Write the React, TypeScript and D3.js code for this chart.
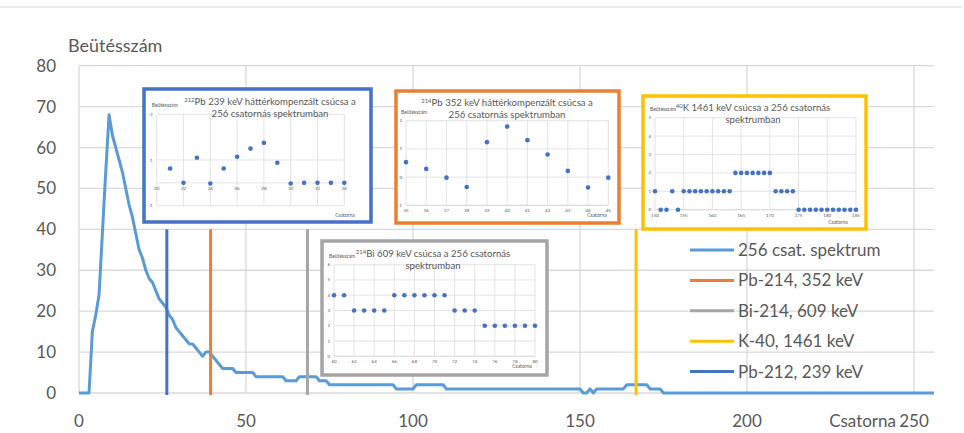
import React from "react";
import * as d3 from "d3";

const FONT = "Lato, 'Open Sans', sans-serif";
const TEXT = "#595959";
const GRID = "#d9d9d9";

// counts per channel, index = channel number 0..256
const SPECTRUM = [
  0, 0, 0, 0, 15, 19, 24, 39, 54, 68,
  63, 60, 57, 54, 50, 46, 43, 39, 35, 33,
  30, 28, 27, 25, 23, 22, 21, 19, 18, 16,
  15, 14, 13, 12, 12, 11, 10, 9, 10, 10,
  9, 8, 7, 6, 6, 6, 6, 5, 5, 5,
  5, 5, 5, 4, 4, 4, 4, 4, 4, 4,
  4, 4, 3, 3, 3, 3, 4, 4, 4, 4,
  4, 4, 3, 3, 3, 2, 2, 2, 2, 2,
  2, 2, 2, 2, 2, 2, 2, 2, 2, 2,
  2, 2, 2, 2, 2, 1, 1, 1, 1, 1,
  1, 2, 2, 2, 2, 2, 2, 2, 2, 2,
  1, 1, 1, 1, 1, 1, 1, 1, 1, 1,
  1, 1, 1, 1, 1, 1, 1, 1, 1, 1,
  1, 1, 1, 1, 1, 1, 1, 1, 1, 1,
  1, 1, 1, 1, 1, 1, 1, 1, 1, 1,
  1, 0, 0, 1, 0, 1, 1, 1, 1, 1,
  1, 1, 1, 1, 2, 2, 2, 2, 2, 2,
  2, 1, 1, 1, 1, 0, 0, 0, 0, 0,
  0, 0, 0, 0, 0, 0, 0, 0, 0, 0,
  0, 0, 0, 0, 0, 0, 0, 0, 0, 0,
  0, 0, 0, 0, 0, 0, 0, 0, 0, 0,
  0, 0, 0, 0, 0, 0, 0, 0, 0, 0,
  0, 0, 0, 0, 0, 0, 0, 0, 0, 0,
  0, 0, 0, 0, 0, 0, 0, 0, 0, 0,
  0, 0, 0, 0, 0, 0, 0, 0, 0, 0,
  0, 0, 0, 0, 0, 0, 0,
];

const X_TICKS = [0, 50, 100, 150, 200, 250];
const Y_TICKS = [0, 10, 20, 30, 40, 50, 60, 70, 80];

const LEGEND_NAMES = [
  "256 csat. spektrum",
  "Pb-214, 352 keV",
  "Bi-214, 609 keV",
  "K-40, 1461 keV",
  "Pb-212, 239 keV",
];
const LEGEND_COLORS = ["#5B9BD5", "#ED7D31", "#A5A5A5", "#FFC000", "#4472C4"];

// vertical marker lines (channel of each peak), drawn from 0 to 40 counts
const MARKER_CHANNELS = [39.4, 68.4, 166.8, 26.3];
const MARKER_COLORS = ["#ED7D31", "#A5A5A5", "#FFC000", "#4472C4"];
const MARKER_SPAN = [0, 40];

// inset: 212Pb 239 keV (background compensated)
const PB212_CH = [21, 22, 23, 24, 25, 26, 27, 28, 29, 30, 31, 32, 33, 34];
const PB212_VAL = [0.63, 0, 1.1, -0.03, 0.63, 1.14, 1.5, 1.75, 0.88, -0.03, 0, 0, 0, 0];
const PB212_XTICKS = [20, 22, 24, 26, 28, 30, 32, 34];
const PB212_YTICKS = [-1, 1, 3];

// inset: 214Pb 352 keV (background compensated)
const PB214_CH = [35, 36, 37, 38, 39, 40, 41, 42, 43, 44, 45];
const PB214_VAL = [0.53, 0.29, -0.02, -0.35, 1.24, 1.79, 1.31, 0.8, 0.22, -0.37, -0.02];
const PB214_XTICKS = [35, 36, 37, 38, 39, 40, 41, 42, 43, 44, 45];
const PB214_YTICKS = [-1, 0, 1, 2];

// inset: 40K 1461 keV
const K40_CH = [
  150, 151, 152, 153, 154, 155, 156, 157, 158, 159, 160, 161, 162, 163, 164, 165, 166, 167,
  168, 169, 170, 171, 172, 173, 174, 175, 176, 177, 178, 179, 180, 181, 182, 183, 184, 185,
];
const K40_VAL = [
  1, 0, 0, 1, 0, 1, 1, 1, 1, 1, 1, 1, 1, 1, 2, 2, 2, 2,
  2, 2, 2, 1, 1, 1, 1, 0, 0, 0, 0, 0, 0, 0, 0, 0, 0, 0,
];
const K40_XTICKS = [150, 155, 160, 165, 170, 175, 180, 185];
const K40_YTICKS = [0, 1, 2, 3, 4, 5];

// inset: 214Bi 609 keV
const BI214_CH = [60, 61, 62, 63, 64, 65, 66, 67, 68, 69, 70, 71, 72, 73, 74, 75, 76, 77, 78, 79, 80];
const BI214_VAL = [4, 4, 3, 3, 3, 3, 4, 4, 4, 4, 4, 4, 3, 3, 3, 2, 2, 2, 2, 2, 2];
const BI214_XTICKS = [60, 62, 64, 66, 68, 70, 72, 74, 76, 78, 80];
const BI214_YTICKS = [0, 1, 2, 3, 4, 5, 6];

type Seg = { t: string; sup?: boolean };

interface InsetProps {
  box: [number, number, number, number];
  plot: [number, number, number, number];
  color: string;
  xDomain: [number, number];
  yDomain: [number, number];
  xTicks: number[];
  yTicks: number[];
  xAxisAt: number;
  title: Seg[][];
  titleX: number;
  titleY: number;
  xTitle: [number, number];
  ch: number[];
  val: number[];
}

function Inset(p: InsetProps) {
  const [bx, by, bw, bh] = p.box;
  const [px0, py0, px1, py1] = p.plot;
  const x = d3.scaleLinear().domain(p.xDomain).range([px0, px1]);
  const y = d3.scaleLinear().domain(p.yDomain).range([py1, py0]);
  const axisY = y(p.xAxisAt);
  return (
    <g>
      <rect x={bx} y={by} width={bw} height={bh} fill="#fff" stroke={p.color} strokeWidth={3.5} />
      {p.yTicks.map((t) => (
        <g key={"y" + t}>
          <line x1={px0} x2={px1} y1={y(t)} y2={y(t)} stroke={GRID} strokeWidth={0.7} />
          <text x={px0 - 4} y={y(t) + 1.5} fontSize={4.5} textAnchor="end" fill={TEXT}>
            {t}
          </text>
        </g>
      ))}
      <line x1={px0} x2={px1} y1={axisY} y2={axisY} stroke={GRID} strokeWidth={0.7} />
      {p.xTicks.map((t) => (
        <g key={"x" + t}>
          <line x1={x(t)} x2={x(t)} y1={py0} y2={py1} stroke={GRID} strokeWidth={0.7} />
          <text x={x(t)} y={axisY + 7} fontSize={4.5} textAnchor="middle" fill={TEXT}>
            {t}
          </text>
        </g>
      ))}
      <text x={px0 - 5} y={py0 - 7} fontSize={5} fill={TEXT}>
        Beütésszám
      </text>
      <text x={p.xTitle[0]} y={p.xTitle[1]} fontSize={5} textAnchor="middle" fill={TEXT}>
        Csatorna
      </text>
      {p.title.map((line, i) => (
        <text key={i} x={p.titleX} y={p.titleY + i * 11.5} fontSize={9.6} textAnchor="middle" fill={TEXT}>
          {line.map((s, j) =>
            s.sup ? (
              <tspan key={j} fontSize={6} dy={-3.5}>
                {s.t}
              </tspan>
            ) : (
              <tspan key={j} dy={j > 0 && line[j - 1].sup ? 3.5 : 0}>
                {s.t}
              </tspan>
            )
          )}
        </text>
      ))}
      {p.ch.map((c, i) => (
        <circle key={c} cx={x(c)} cy={y(p.val[i])} r={2.3} fill="#4472C4" />
      ))}
    </g>
  );
}

export default function App() {
  const width = 964;
  const height = 433;
  const x = d3.scaleLinear().domain([0, 256]).range([79, 934]);
  const y = d3.scaleLinear().domain([0, 80]).range([393, 65.7]);

  const spectrumPath = d3
    .line<number>()
    .x((_, i) => x(i))
    .y((d) => y(d))(SPECTRUM) as string;

  return (
    <svg
      width={width}
      height={height}
      style={{ position: "absolute", left: 0, top: 0, background: "#fff" }}
      fontFamily={FONT}
    >
      <line x1={0} x2={962} y1={7} y2={7} stroke={GRID} strokeWidth={1} />

      {Y_TICKS.map((t) => (
        <g key={"gy" + t}>
          <line x1={x(0)} x2={x(256)} y1={y(t)} y2={y(t)} stroke={GRID} strokeWidth={1.3} />
          <text x={56} y={y(t) + 6} fontSize={17} textAnchor="end" fill={TEXT}>
            {t}
          </text>
        </g>
      ))}
      {X_TICKS.map((t) => (
        <g key={"gx" + t}>
          <line x1={x(t)} x2={x(t)} y1={y(0)} y2={y(80)} stroke={GRID} strokeWidth={1.3} />
          <text x={x(t)} y={427} fontSize={17} textAnchor="middle" fill={TEXT}>
            {t}
          </text>
        </g>
      ))}
      <text x={68} y={52} fontSize={18} fill={TEXT}>
        Beütésszám
      </text>
      <text x={896} y={427} fontSize={17} textAnchor="end" fill={TEXT}>
        Csatorna
      </text>

      <path d={spectrumPath} fill="none" stroke={LEGEND_COLORS[0]} strokeWidth={3} strokeLinejoin="round" />

      {MARKER_CHANNELS.map((c, i) => (
        <line
          key={"m" + i}
          x1={x(c)}
          x2={x(c)}
          y1={y(MARKER_SPAN[0]) + 2}
          y2={y(MARKER_SPAN[1])}
          stroke={MARKER_COLORS[i]}
          strokeWidth={3}
        />
      ))}

      <Inset
        box={[144, 89, 227, 133]}
        plot={[156.7, 114.3, 344.3, 205.7]}
        color="#4472C4"
        xDomain={[20, 34]}
        yDomain={[-1, 3]}
        xTicks={PB212_XTICKS}
        yTicks={PB212_YTICKS}
        xAxisAt={0}
        title={[[{ t: "212", sup: true }, { t: "Pb 239 keV háttérkompenzált csúcsa a" }], [{ t: "256 csatornás spektrumban" }]]}
        titleX={270}
        titleY={105}
        xTitle={[345, 217]}
        ch={PB212_CH}
        val={PB212_VAL}
      />
      <Inset
        box={[396, 91, 223, 132]}
        plot={[406, 120.7, 608.3, 205.3]}
        color="#ED7D31"
        xDomain={[35, 45]}
        yDomain={[-1, 2]}
        xTicks={PB214_XTICKS}
        yTicks={PB214_YTICKS}
        xAxisAt={-1}
        title={[[{ t: "214", sup: true }, { t: "Pb 352 keV háttérkompenzált csúcsa a" }], [{ t: "256 csatornás spektrumban" }]]}
        titleX={507}
        titleY={106}
        xTitle={[597, 217]}
        ch={PB214_CH}
        val={PB214_VAL}
      />
      <Inset
        box={[643, 96, 223, 133]}
        plot={[655, 117.7, 856, 209.7]}
        color="#FFC000"
        xDomain={[150, 185]}
        yDomain={[0, 5]}
        xTicks={K40_XTICKS}
        yTicks={K40_YTICKS}
        xAxisAt={0}
        title={[[{ t: "40", sup: true }, { t: "K 1461 keV csúcsa a 256 csatornás" }], [{ t: "spektrumban" }]]}
        titleX={753}
        titleY={111}
        xTitle={[838, 224]}
        ch={K40_CH}
        val={K40_VAL}
      />
      <Inset
        box={[322, 241, 225, 134]}
        plot={[334, 264.7, 535, 356.3]}
        color="#A5A5A5"
        xDomain={[60, 80]}
        yDomain={[0, 6]}
        xTicks={BI214_XTICKS}
        yTicks={BI214_YTICKS}
        xAxisAt={0}
        title={[[{ t: "214", sup: true }, { t: "Bi 609 keV csúcsa a 256 csatornás" }], [{ t: "spektrumban" }]]}
        titleX={433}
        titleY={257}
        xTitle={[522, 368]}
        ch={BI214_CH}
        val={BI214_VAL}
      />

      {LEGEND_NAMES.map((name, i) => {
        const ly = 250 + i * 30.4;
        return (
          <g key={name}>
            <line x1={690} x2={734} y1={ly} y2={ly} stroke={LEGEND_COLORS[i]} strokeWidth={3} />
            <text x={738} y={ly + 6} fontSize={17} fill={TEXT}>
              {name}
            </text>
          </g>
        );
      })}
    </svg>
  );
}
